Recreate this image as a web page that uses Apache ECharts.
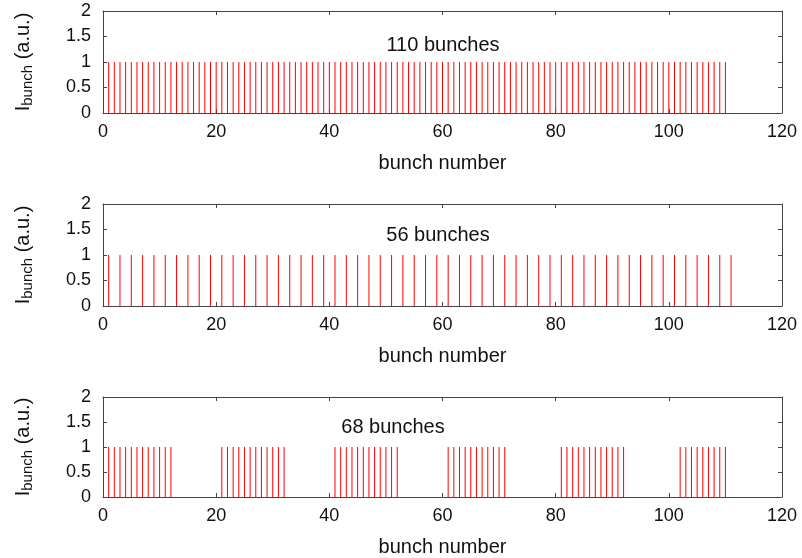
<!DOCTYPE html>
<html>
<head>
<meta charset="utf-8">
<script src="https://cdn.jsdelivr.net/npm/echarts@6/dist/echarts.min.js"></script>
<style>html,body{margin:0;padding:0;background:#fff}#c{width:802px;height:558px}</style>
</head>
<body>
<div id="c"></div>
<script>
// Panel titles
const panelTitles = ['110 bunches', '56 bunches', '68 bunches'];
const xAxisName = 'bunch number';
const xTicks = [0, 20, 40, 60, 80, 100, 120];
const yTicks = [0, 0.5, 1, 1.5, 2];

// Panel 1: 110 bunches
const positions1 = [1,2,3,4,5,6,7,8,9,10,11,12,13,14,15,16,17,18,19,20,21,22,23,24,25,26,27,28,29,30,31,32,33,34,35,36,37,38,39,40,41,42,43,44,45,46,47,48,49,50,51,52,53,54,55,56,57,58,59,60,61,62,63,64,65,66,67,68,69,70,71,72,73,74,75,76,77,78,79,80,81,82,83,84,85,86,87,88,89,90,91,92,93,94,95,96,97,98,99,100,101,102,103,104,105,106,107,108,109,110];
const heights1 = [1,1,1,1,1,1,1,1,1,1,1,1,1,1,1,1,1,1,1,1,1,1,1,1,1,1,1,1,1,1,1,1,1,1,1,1,1,1,1,1,1,1,1,1,1,1,1,1,1,1,1,1,1,1,1,1,1,1,1,1,1,1,1,1,1,1,1,1,1,1,1,1,1,1,1,1,1,1,1,1,1,1,1,1,1,1,1,1,1,1,1,1,1,1,1,1,1,1,1,1,1,1,1,1,1,1,1,1,1,1];

// Panel 2: 56 bunches
const positions2 = [1,3,5,7,9,11,13,15,17,19,21,23,25,27,29,31,33,35,37,39,41,43,45,47,49,51,53,55,57,59,61,63,65,67,69,71,73,75,77,79,81,83,85,87,89,91,93,95,97,99,101,103,105,107,109,111];
const heights2 = [1,1,1,1,1,1,1,1,1,1,1,1,1,1,1,1,1,1,1,1,1,1,1,1,1,1,1,1,1,1,1,1,1,1,1,1,1,1,1,1,1,1,1,1,1,1,1,1,1,1,1,1,1,1,1,1];

// Panel 3: 68 bunches (trains)
const positions3 = [1,2,3,4,5,6,7,8,9,10,11,12,
  21,22,23,24,25,26,27,28,29,30,31,32,
  41,42,43,44,45,46,47,48,49,50,51,52,
  61,62,63,64,65,66,67,68,69,70,71,
  81,82,83,84,85,86,87,88,89,90,91,92,
  102,103,104,105,106,107,108,109,110];
const heights3 = [1,1,1,1,1,1,1,1,1,1,1,1,
  1,1,1,1,1,1,1,1,1,1,1,1,
  1,1,1,1,1,1,1,1,1,1,1,1,
  1,1,1,1,1,1,1,1,1,1,1,
  1,1,1,1,1,1,1,1,1,1,1,1,
  1,1,1,1,1,1,1,1,1];

const FONT = '"Liberation Sans", Arial, Helvetica, sans-serif';
const AX = '#444';
const TXT = '#111';

const panels = [
  {pos: positions1, h: heights1, top: 11, height: 102, title: panelTitles[0], tx: 438, ty: 30},
  {pos: positions2, h: heights2, top: 204, height: 102, title: panelTitles[1], tx: 433, ty: 220},
  {pos: positions3, h: heights3, top: 397, height: 101, title: panelTitles[2], tx: 388, ty: 412}
];

const grids = [], xAxes = [], yAxes = [], series = [], titles = [];
panels.forEach((p, i) => {
  grids.push({left: 103, width: 679, top: p.top, height: p.height, show: false});
  const axLine = {show: true, onZero: false, lineStyle: {color: AX, width: 1}};
  const tick = {show: true, inside: true, length: 4, lineStyle: {color: AX}};
  xAxes.push({
    type: 'value', gridIndex: i, position: 'bottom', min: xTicks[0], max: xTicks[xTicks.length - 1], interval: 20,
    axisLine: axLine, axisTick: tick, splitLine: {show: false},
    axisLabel: {color: TXT, fontSize: 18, fontFamily: FONT, margin: 10},
    name: xAxisName, nameLocation: 'middle', nameGap: 40,
    nameTextStyle: {color: TXT, fontSize: 20, fontFamily: FONT}
  });
  xAxes.push({
    type: 'value', gridIndex: i, position: 'top', min: xTicks[0], max: xTicks[xTicks.length - 1], interval: 20,
    axisLine: axLine, axisTick: tick, splitLine: {show: false}, axisLabel: {show: false}
  });
  yAxes.push({
    type: 'value', gridIndex: i, position: 'left', min: yTicks[0], max: yTicks[yTicks.length - 1], interval: 0.5,
    axisLine: axLine, axisTick: tick, splitLine: {show: false},
    axisLabel: {color: TXT, fontSize: 18, fontFamily: FONT, margin: 12},
    name: '{a|I}{b|bunch}{a| (a.u.)}', nameLocation: 'middle', nameRotate: 90, nameGap: 68,
    nameTextStyle: {
      color: TXT, fontFamily: FONT,
      rich: {
        a: {fontSize: 20, lineHeight: 24, fontFamily: FONT, color: TXT},
        b: {fontSize: 15, lineHeight: 14, verticalAlign: 'bottom', fontFamily: FONT, color: TXT}
      }
    }
  });
  yAxes.push({
    type: 'value', gridIndex: i, position: 'right', min: yTicks[0], max: yTicks[yTicks.length - 1], interval: 0.5,
    axisLine: axLine, axisTick: tick, splitLine: {show: false}, axisLabel: {show: false}
  });
  series.push({
    type: 'bar', xAxisIndex: i * 2, yAxisIndex: i * 2, barWidth: 1, silent: true,
    itemStyle: {color: '#ff0000'},
    data: p.pos.map((x, k) => [x, p.h[k]])
  });
  titles.push({
    text: p.title, left: p.tx, top: p.ty, textAlign: 'center',
    textStyle: {fontSize: 20, fontWeight: 'normal', color: TXT, fontFamily: FONT}
  });
});

const chart = echarts.init(document.getElementById('c'), null, {renderer: 'canvas'});
chart.setOption({
  animation: false,
  backgroundColor: '#fff',
  title: titles,
  grid: grids,
  xAxis: xAxes,
  yAxis: yAxes,
  series: series
});
</script>
</body>
</html>
